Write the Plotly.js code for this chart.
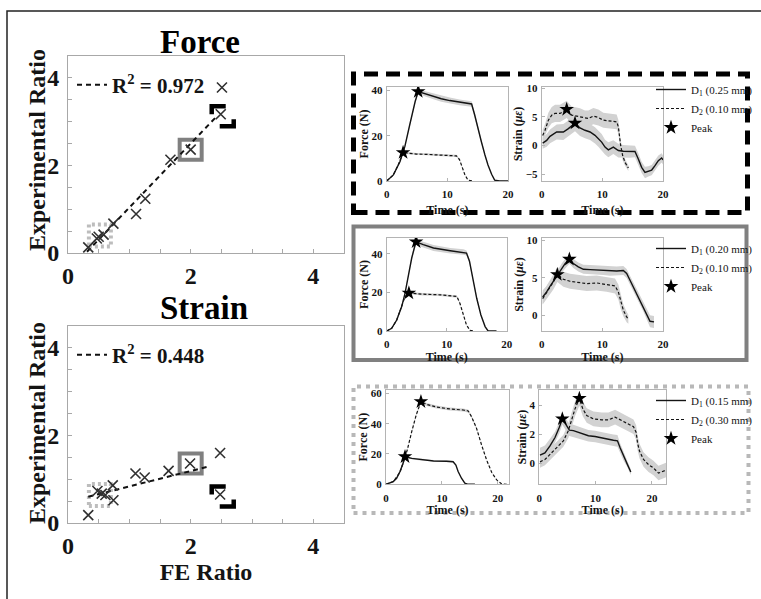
<!DOCTYPE html>
<html><head><meta charset="utf-8">
<script src="https://cdn.plot.ly/plotly-3.0.1.min.js"></script>
<style>html,body{margin:0;padding:0;background:#fff}#chart{width:761px;height:599px}</style>
</head><body><div id="chart"></div>
<script>
// ---------- DATA ----------
// Left scatter: FE ratio vs experimental ratio
const forceFE  = [0.33, 0.47, 0.50, 0.58, 0.74, 1.11, 1.26, 1.67, 2.00, 2.49, 2.51];
const forceExp = [0.13, 0.33, 0.37, 0.42, 0.67, 0.89, 1.24, 2.13, 2.36, 3.17, 3.78];
const strainFE  = [0.33, 0.48, 0.55, 0.61, 0.73, 0.74, 1.10, 1.25, 1.64, 1.99, 2.48, 2.48];
const strainExp = [0.18, 0.73, 0.67, 0.64, 0.86, 0.52, 1.13, 1.04, 1.19, 1.36, 1.60, 0.65];
const forceFitX = [0.31, 2.41], forceFitY = [0.03, 3.10];
const strainFitX = [0.33, 2.32], strainFitY = [0.60, 1.30];
const forceR2 = '0.972', strainR2 = '0.448';
// highlighted samples (dotted light gray, solid gray, black dashed)
const hlFE = [0.52, 2.00, 2.49];
const hlForce = [0.40, 2.36, 3.17];
const hlStrain = [0.64, 1.36, 0.65];

// Panel 1 (D1 0.25 mm, D2 0.10 mm)
const p1Label = ['D<sub>1</sub> (0.25 mm)', 'D<sub>2</sub> (0.10 mm)'];
const p1fD1t = [0, 1.1, 2.2, 3.0, 3.8, 4.7, 5.2, 6.5, 7.7, 9.0, 10.4, 12.0, 14.0, 14.5, 15.0, 15.6, 16.2, 16.7, 17.3, 17.8, 18.6, 20];
const p1fD1v = [0, 2.7, 8.6, 15.3, 24.9, 35.3, 39.6, 38.4, 37.5, 36.4, 35.6, 34.8, 34.1, 29.3, 23.5, 17.5, 11.5, 7.1, 3.0, 0.4, 0, 0];
const p1fD1s = [0, 0.2, 0.4, 0.5, 0.7, 0.9, 1.1, 1.2, 1.3, 1.3, 1.3, 1.3, 1.2, 1.0, 0.9, 0.8, 0.6, 0.4, 0.2, 0.1, 0, 0];
const p1fD2t = [0, 1.1, 1.9, 2.7, 3.5, 4.9, 6.5, 8.2, 10.0, 11.5, 12.0, 12.3, 12.6, 12.9, 13.4, 14.2];
const p1fD2v = [0, 2.7, 7.1, 12.6, 12.3, 11.9, 11.8, 11.6, 11.3, 11.1, 9.5, 7.1, 4.8, 2.7, 0.4, 0];
const p1fD2s = [0, 0.2, 0.3, 0.5, 0.5, 0.5, 0.5, 0.5, 0.5, 0.5, 0.4, 0.4, 0.3, 0.2, 0.1, 0];
const p1sD1t = [0.16, 0.82, 1.37, 2.47, 3.57, 4.40, 5.49, 6.32, 7.14, 7.97, 8.79, 9.34, 9.89, 10.44, 10.99, 11.81, 12.64, 13.46, 14.56, 15.38, 15.93, 16.48, 17.03, 17.58, 18.13, 18.68, 19.23, 19.78, 20.0];
const p1sD1v = [0.41, 0.88, 1.59, 2.35, 2.35, 2.94, 3.90, 3.06, 2.65, 2.35, 1.76, 1.18, 0.59, -0.29, -0.76, -0.29, -0.88, -1.00, -1.06, -1.06, -2.35, -3.82, -4.71, -4.53, -4.29, -3.53, -2.65, -2.18, -2.53];
const p1sD1s = [1.0, 1.1, 1.2, 1.3, 1.4, 1.4, 1.4, 1.4, 1.4, 1.4, 1.4, 1.4, 1.4, 1.3, 1.3, 1.2, 1.2, 1.1, 1.1, 1.0, 1.0, 1.0, 1.0, 0.9, 0.9, 0.9, 0.9, 0.8, 0.8];
const p1sD2t = [0.16, 0.55, 1.10, 1.65, 2.20, 3.02, 4.12, 4.95, 5.77, 6.32, 7.14, 7.69, 8.52, 9.34, 10.16, 11.26, 12.36, 12.64, 12.80, 13.02, 13.35, 13.74, 14.29];
const p1sD2v = [1.76, 2.65, 4.41, 5.29, 5.59, 5.59, 6.29, 5.29, 5.12, 5.00, 4.71, 4.71, 5.12, 4.88, 4.41, 4.29, 4.12, 3.24, 1.76, 0.00, -1.76, -2.94, -3.94];
const p1sD2s = [1.0, 1.1, 1.3, 1.4, 1.5, 1.5, 1.5, 1.5, 1.5, 1.5, 1.4, 1.4, 1.4, 1.4, 1.3, 1.3, 1.3, 1.2, 1.1, 1.0, 0.8, 0.6, 0.5];
const p1PeakF = {t: [5.2, 2.7], v: [39.6, 12.6]};
const p1PeakS = {t: [5.49, 4.12], v: [3.90, 6.29]};

// Panel 2 (D1 0.20 mm, D2 0.10 mm)
const p2Label = ['D<sub>1</sub> (0.20 mm)', 'D<sub>2</sub> (0.10 mm)'];
const p2fD1t = [0, 0.83, 1.67, 2.5, 3.06, 3.6, 4.17, 4.6, 4.9, 6.1, 7.8, 10.6, 12.8, 13.3, 13.8, 14.3, 15.0, 15.7, 16.4, 16.9, 18.3];
const p2fD1v = [0, 1.4, 5.7, 12.7, 19.7, 29.2, 37.9, 43.1, 46.3, 44.9, 43.1, 41.7, 41.0, 40.5, 36.2, 27.5, 17.0, 8.3, 2.3, 0, 0];
const p2fD1s = [0, 0.2, 0.4, 0.6, 0.8, 1.0, 1.2, 1.4, 1.5, 1.5, 1.5, 1.4, 1.4, 1.3, 1.2, 1.0, 0.8, 0.5, 0.2, 0, 0];
const p2fD2t = [0, 0.83, 1.67, 2.5, 3.06, 3.7, 6.1, 8.9, 11.7, 12.2, 12.8, 13.3, 13.9, 14.4];
const p2fD2v = [0, 1.4, 5.7, 13.6, 17.9, 19.7, 19.1, 18.8, 17.9, 14.4, 8.3, 3.1, 0.3, 0];
const p2fD2s = [0, 0.2, 0.3, 0.5, 0.6, 0.6, 0.6, 0.6, 0.6, 0.5, 0.4, 0.2, 0.1, 0];
const p2sD1t = [0.16, 0.82, 1.48, 2.20, 2.75, 3.30, 3.85, 4.56, 5.22, 6.04, 6.87, 7.97, 9.07, 10.16, 11.26, 12.36, 13.46, 14.01, 14.56, 15.11, 15.66, 16.21, 16.76, 17.31, 17.86, 18.52];
const p2sD1v = [2.44, 3.11, 4.00, 4.89, 5.56, 6.31, 6.89, 7.47, 6.89, 6.44, 6.13, 6.09, 6.04, 5.96, 5.87, 5.91, 5.96, 5.56, 4.67, 3.78, 2.89, 2.00, 1.11, 0.22, -0.80, -0.89];
const p2sD1s = [0.9, 0.8, 0.7, 0.6, 0.6, 0.6, 0.6, 0.6, 0.6, 0.6, 0.6, 0.6, 0.6, 0.6, 0.6, 0.6, 0.6, 0.6, 0.6, 0.6, 0.6, 0.6, 0.6, 0.7, 0.8, 0.8];
const p2sD2t = [0.16, 1.10, 1.92, 2.58, 3.57, 4.67, 5.77, 7.42, 9.07, 10.71, 12.09, 12.64, 13.02, 13.46, 14.01, 14.29];
const p2sD2v = [2.22, 3.33, 4.44, 5.42, 4.80, 4.53, 4.44, 4.22, 4.31, 4.13, 3.91, 3.11, 1.78, 0.67, -0.22, -0.53];
const p2sD2s = [0.8, 0.9, 1.0, 1.0, 1.0, 1.0, 1.0, 1.0, 1.0, 1.0, 1.0, 1.0, 0.9, 0.8, 0.7, 0.6];
const p2PeakF = {t: [4.9, 3.7], v: [46.3, 19.7]};
const p2PeakS = {t: [4.56, 2.58], v: [7.47, 5.42]};

// Panel 3 (D1 0.15 mm, D2 0.30 mm)
const p3Label = ['D<sub>1</sub> (0.15 mm)', 'D<sub>2</sub> (0.30 mm)'];
const p3fD1t = [0, 1.3, 1.9, 2.5, 3.0, 3.4, 4.6, 6.1, 8.5, 10.8, 12.0, 12.5, 12.9, 13.5, 14.1, 14.7, 15.9];
const p3fD1v = [0, 1.8, 4.0, 8.4, 13.2, 18.2, 17.1, 16.3, 15.4, 15.2, 14.9, 12.7, 8.4, 4.0, 0.7, 0, 0];
const p3fD1s = [0, 0.2, 0.3, 0.4, 0.5, 0.6, 0.6, 0.6, 0.6, 0.6, 0.6, 0.5, 0.4, 0.3, 0.1, 0, 0];
const p3fD2t = [0, 1.3, 2.5, 3.4, 3.8, 4.6, 5.4, 6.25, 7.3, 9.0, 11.4, 13.8, 14.7, 15.3, 16.2, 17.1, 18.0, 18.9, 19.8, 20.7, 21.8];
const p3fD2v = [0, 1.8, 7.9, 17.1, 22.6, 34.7, 45.7, 54.5, 52.7, 51.0, 49.7, 49.0, 48.4, 44.6, 36.9, 25.9, 16.0, 7.9, 2.9, 0.2, 0];
const p3fD2s = [0, 0.2, 0.4, 0.6, 0.7, 0.8, 0.9, 1.0, 1.0, 1.0, 1.0, 1.0, 1.0, 0.9, 0.8, 0.6, 0.4, 0.3, 0.1, 0, 0];
const p3sD1t = [0.12, 1.0, 1.9, 2.79, 3.56, 4.09, 4.74, 5.34, 6.05, 6.94, 7.83, 8.72, 9.91, 11.09, 12.28, 13.17, 13.88, 14.35, 14.95, 15.66, 16.25];
const p3sD1v = [0.58, 0.74, 1.21, 1.79, 2.49, 3.07, 2.67, 2.30, 2.26, 2.14, 2.02, 1.91, 1.86, 1.79, 1.67, 1.60, 1.56, 1.09, 0.51, -0.07, -0.58];
const p3sD1s = [0.5, 0.5, 0.5, 0.4, 0.4, 0.4, 0.4, 0.4, 0.4, 0.4, 0.4, 0.4, 0.4, 0.4, 0.4, 0.4, 0.4, 0.3, 0.3, 0.2, 0.2];
const p3sD2t = [0.12, 1.0, 1.9, 3.08, 4.27, 5.16, 5.75, 6.35, 7.12, 7.71, 8.42, 9.61, 11.09, 12.28, 13.46, 14.65, 15.84, 16.73, 17.20, 17.44, 17.79, 18.51, 19.40, 20.28, 21.17, 21.77, 22.66];
const p3sD2v = [0.12, 0.28, 0.63, 1.09, 1.56, 2.26, 2.95, 3.77, 4.47, 3.77, 3.30, 3.07, 3.00, 3.00, 3.19, 2.95, 2.72, 2.53, 2.14, 1.44, 0.86, 0.28, -0.07, -0.30, -0.65, -0.58, -0.42];
const p3sD2s = [0.4, 0.4, 0.4, 0.4, 0.4, 0.5, 0.5, 0.5, 0.5, 0.5, 0.5, 0.5, 0.5, 0.5, 0.5, 0.5, 0.5, 0.5, 0.5, 0.5, 0.5, 0.5, 0.5, 0.5, 0.5, 0.5, 0.5];
const p3PeakF = {t: [3.4, 6.25], v: [18.2, 54.5]};
const p3PeakS = {t: [4.09, 7.12], v: [3.07, 4.47]};

// ---------- LAYOUT HELPERS ----------
const W = 761, H = 599;
const SERIF = 'Liberation Serif, Times New Roman, serif';
const dX = (a, b) => [a / W, b / W];
const dY = (top, bot) => [1 - bot / H, 1 - top / H];
const INK = '#141414';

function bigAxis(domain, anchor, titleText, isY) {
  const ax = {
    domain: domain, anchor: anchor, range: [0, 4.5], tick0: 0, dtick: 2,
    showline: true, mirror: true, linecolor: '#a8a8a8', linewidth: 1,
    ticks: 'inside', ticklen: 4, tickcolor: '#a8a8a8',
    minor: {dtick: 0.5, ticks: 'inside', ticklen: 4, tickcolor: '#a8a8a8', showgrid: false},
    showgrid: false, zeroline: false,
    tickfont: {family: SERIF, size: 24, color: INK, weight: 'bold'},
    ticklabelstandoff: isY ? 3 : 1
  };
  if (titleText) ax.title = {text: titleText, font: {family: SERIF, size: 24, color: INK, weight: 'bold'}, standoff: 0};
  return ax;
}
function smallAxis(domain, anchor, range, dtick, titleText, isY, standoff) {
  return {
    domain: domain, anchor: anchor, range: range, tick0: 0, dtick: dtick,
    showline: true, mirror: true, linecolor: '#b4b4b4', linewidth: 1,
    ticks: 'inside', ticklen: 3, tickcolor: '#b4b4b4',
    showgrid: false, zeroline: false,
    tickfont: {family: SERIF, size: 11, color: INK, weight: 'bold'},
    ticklabelstandoff: isY ? 1 : 3,
    title: {text: titleText, font: {family: SERIF, size: 12, color: INK, weight: 'bold'}, standoff: standoff}
  };
}

// ---------- TRACES ----------
const data = [];
function band(t, v, s, xa, ya) {
  const up = v.map((y, i) => y + s[i]);
  const lo = v.map((y, i) => y - s[i]);
  data.push({x: t.concat(t.slice().reverse()), y: up.concat(lo.slice().reverse()),
    xaxis: xa, yaxis: ya, mode: 'lines', fill: 'toself', fillcolor: '#d2d2d2',
    line: {width: 0}, showlegend: false, hoverinfo: 'skip'});
}
function curve(t, v, xa, ya, dashed, name, legend, show) {
  data.push({x: t, y: v, xaxis: xa, yaxis: ya, mode: 'lines', name: name,
    line: {color: INK, width: dashed ? 1.2 : 1.4, dash: dashed ? '3px,2px' : 'solid'},
    showlegend: !!show, legend: legend});
}
function peaks(p, xa, ya, legend, show) {
  data.push({x: p.t, y: p.v, xaxis: xa, yaxis: ya, mode: 'markers', name: 'Peak',
    marker: {symbol: 'star', size: 11, color: '#000'}, showlegend: !!show, legend: legend});
}
function panel(fx, fy, sx, sy, lg, labels, F, S) {
  band(F.d1t, F.d1v, F.d1s, fx, fy); band(F.d2t, F.d2v, F.d2s, fx, fy);
  band(S.d1t, S.d1v, S.d1s, sx, sy); band(S.d2t, S.d2v, S.d2s, sx, sy);
  curve(F.d1t, F.d1v, fx, fy, false, labels[0], lg, false);
  curve(F.d2t, F.d2v, fx, fy, true, labels[1], lg, false);
  peaks(F.pk, fx, fy, lg, false);
  curve(S.d1t, S.d1v, sx, sy, false, labels[0], lg, true);
  curve(S.d2t, S.d2v, sx, sy, true, labels[1], lg, true);
  peaks(S.pk, sx, sy, lg, true);
}

const xMark = {symbol: 'x-thin-open', size: 10, color: '#303030', line: {width: 1.6, color: '#303030'}};
data.push({x: forceFitX, y: forceFitY, xaxis: 'x', yaxis: 'y', mode: 'lines',
  name: 'R<sup>2</sup> = ' + forceR2, line: {color: '#111', width: 2, dash: '5px,4px'}, legend: 'legend'});
data.push({x: forceFE, y: forceExp, xaxis: 'x', yaxis: 'y', mode: 'markers', showlegend: false, marker: xMark});
data.push({x: strainFitX, y: strainFitY, xaxis: 'x2', yaxis: 'y2', mode: 'lines',
  name: 'R<sup>2</sup> = ' + strainR2, line: {color: '#111', width: 2, dash: '5px,4px'}, legend: 'legend2'});
data.push({x: strainFE, y: strainExp, xaxis: 'x2', yaxis: 'y2', mode: 'markers', showlegend: false, marker: xMark});

panel('x3', 'y3', 'x4', 'y4', 'legend3', p1Label,
  {d1t: p1fD1t, d1v: p1fD1v, d1s: p1fD1s, d2t: p1fD2t, d2v: p1fD2v, d2s: p1fD2s, pk: p1PeakF},
  {d1t: p1sD1t, d1v: p1sD1v, d1s: p1sD1s, d2t: p1sD2t, d2v: p1sD2v, d2s: p1sD2s, pk: p1PeakS});
panel('x5', 'y5', 'x6', 'y6', 'legend4', p2Label,
  {d1t: p2fD1t, d1v: p2fD1v, d1s: p2fD1s, d2t: p2fD2t, d2v: p2fD2v, d2s: p2fD2s, pk: p2PeakF},
  {d1t: p2sD1t, d1v: p2sD1v, d1s: p2sD1s, d2t: p2sD2t, d2v: p2sD2v, d2s: p2sD2s, pk: p2PeakS});
panel('x7', 'y7', 'x8', 'y8', 'legend5', p3Label,
  {d1t: p3fD1t, d1v: p3fD1v, d1s: p3fD1s, d2t: p3fD2t, d2v: p3fD2v, d2s: p3fD2s, pk: p3PeakF},
  {d1t: p3sD1t, d1v: p3sD1v, d1s: p3sD1s, d2t: p3sD2t, d2v: p3sD2v, d2s: p3sD2s, pk: p3PeakS});

// ---------- SHAPES ----------
function highlight(xr, yr, yv) {
  const base = {xref: xr, yref: yr, xsizemode: 'pixel', ysizemode: 'pixel', layer: 'below'};
  return [
    Object.assign({}, base, {type: 'rect', xanchor: hlFE[0], yanchor: yv[0], x0: -11, x1: 11, y0: -11, y1: 11,
      line: {color: '#bdbdbd', width: 4, dash: '3px,3px'}}),
    Object.assign({}, base, {type: 'rect', xanchor: hlFE[1], yanchor: yv[1], x0: -11, x1: 11, y0: -10, y1: 10,
      line: {color: '#808080', width: 4}}),
    Object.assign({}, base, {type: 'path', xanchor: hlFE[2], yanchor: yv[2],
      path: 'M-9,0 V8 H5 M-1,-12 H13 V-5', line: {color: '#000', width: 4.5}})
  ];
}
const shapes = [
  {type: 'rect', xref: 'paper', yref: 'paper', x0: 7 / W, x1: 1.05, y0: -0.05, y1: 1 - 11 / H,
    line: {color: '#222', width: 1.5}},
  {type: 'rect', xref: 'paper', yref: 'paper', x0: 353.5 / W, x1: 747.5 / W, y0: 1 - 212.5 / H, y1: 1 - 74 / H,
    line: {color: '#000', width: 5, dash: '14px,8px'}},
  {type: 'rect', xref: 'paper', yref: 'paper', x0: 353.5 / W, x1: 746.5 / W, y0: 1 - 360 / H, y1: 1 - 226.5 / H,
    line: {color: '#808080', width: 4}},
  {type: 'rect', xref: 'paper', yref: 'paper', x0: 353.5 / W, x1: 748.5 / W, y0: 1 - 513 / H, y1: 1 - 386.5 / H,
    line: {color: '#b8b8b8', width: 4, dash: '4px,5px'}}
].concat(highlight('x', 'y', hlForce), highlight('x2', 'y2', hlStrain));

// ---------- LAYOUT ----------
const smallLegend = (topPx) => ({x: 651 / W, y: 1 - topPx / H, xanchor: 'left', yanchor: 'top',
  bgcolor: 'rgba(0,0,0,0)', borderwidth: 0, font: {family: SERIF, size: 11, color: INK}, tracegroupgap: 0});
const bigLegend = (midPx) => ({x: 72 / W, y: 1 - midPx / H, xanchor: 'left', yanchor: 'middle',
  bgcolor: 'rgba(0,0,0,0)', borderwidth: 0, font: {family: SERIF, size: 21, color: INK, weight: 'bold'}});
const headFont = {family: SERIF, size: 33, color: '#000', weight: 'bold'};
const yTitleFont = {family: SERIF, size: 24, color: INK, weight: 'bold'};

const layout = {
  width: W, height: H, margin: {l: 0, r: 0, t: 0, b: 0},
  paper_bgcolor: '#fff', plot_bgcolor: '#fff', showlegend: true,
  font: {family: SERIF, color: INK},
  xaxis: bigAxis(dX(68, 344), 'y', '', false),
  yaxis: bigAxis(dY(56, 253), 'x', '', true),
  xaxis2: bigAxis(dX(68, 344), 'y2', 'FE Ratio', false),
  yaxis2: bigAxis(dY(326, 523), 'x2', '', true),
  xaxis3: smallAxis(dX(386.7, 508), 'y3', [0, 20], 10, 'Time (s)', false, 6),
  yaxis3: smallAxis(dY(87, 181), 'x3', [0, 41.6], 20, 'Force (N)', true, 0),
  xaxis4: smallAxis(dX(541.7, 663), 'y4', [0, 20], 10, 'Time (s)', false, 6),
  yaxis4: smallAxis(dY(87, 181), 'x4', [-6.2, 10.2], 5, 'Strain (<i>με</i>)', true, 0),
  xaxis5: smallAxis(dX(386.7, 506.7), 'y5', [0, 20], 10, 'Time (s)', false, 1),
  yaxis5: smallAxis(dY(238, 331), 'x5', [0, 48.3], 20, 'Force (N)', true, 0),
  xaxis6: smallAxis(dX(541.7, 663), 'y6', [0, 20], 10, 'Time (s)', false, 1),
  yaxis6: smallAxis(dY(238, 331), 'x6', [-2.1, 10.3], 5, 'Strain (<i>με</i>)', true, 0),
  xaxis7: smallAxis(dX(386, 509), 'y7', [0, 22], 10, 'Time (s)', false, 2),
  yaxis7: smallAxis(dY(390, 484.3), 'x7', [0, 62.2], 20, 'Force (N)', true, 0),
  xaxis8: smallAxis(dX(539.3, 666), 'y8', [0, 22.5], 10, 'Time (s)', false, 2),
  yaxis8: smallAxis(dY(390, 484.3), 'x8', [-1.42, 5.05], 2, 'Strain (<i>με</i>)', true, 0),
  legend: bigLegend(85), legend2: bigLegend(355),
  legend3: smallLegend(75), legend4: smallLegend(234), legend5: smallLegend(386),
  annotations: [
    {text: 'Force', xref: 'paper', yref: 'paper', x: 200 / W, y: 1 - 42 / H, xanchor: 'center', yanchor: 'middle',
      showarrow: false, font: headFont},
    {text: 'Strain', xref: 'paper', yref: 'paper', x: 204 / W, y: 1 - 308 / H, xanchor: 'center', yanchor: 'middle',
      showarrow: false, font: headFont},
    {text: 'Experimental Ratio', xref: 'paper', yref: 'paper', x: 37 / W, y: 1 - 150 / H, textangle: -90,
      xanchor: 'center', yanchor: 'middle', showarrow: false, font: yTitleFont},
    {text: 'Experimental Ratio', xref: 'paper', yref: 'paper', x: 37 / W, y: 1 - 423 / H, textangle: -90,
      xanchor: 'center', yanchor: 'middle', showarrow: false, font: yTitleFont}
  ],
  shapes: shapes
};
Plotly.newPlot('chart', data, layout, {displayModeBar: false, staticPlot: true});
</script></body></html>
